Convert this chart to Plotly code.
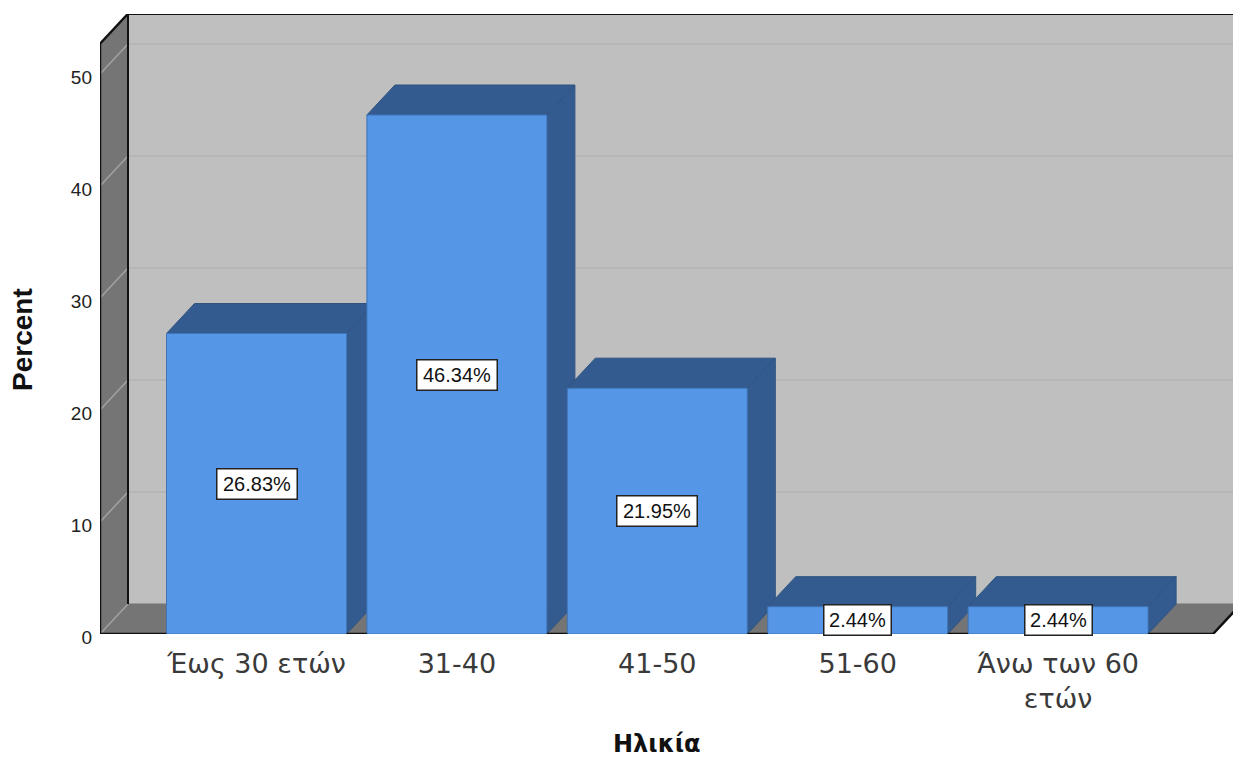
import plotly.graph_objects as go

categories = ["Έως 30 ετών", "31-40", "41-50", "51-60", "Άνω των 60<br>ετών"]
percent = [26.83, 46.34, 21.95, 2.44, 2.44]
labels = ["26.83%", "46.34%", "21.95%", "2.44%", "2.44%"]
y_ticks = [0, 10, 20, 30, 40, 50]

FONT = "Liberation Sans"
FRONT, DARK, WALL, SIDEWALL = "#5596E6", "#345B8F", "#BFBFBF", "#757575"

# pixel scale of the plot
PX_X, PX_Y = 200.4, 11.2
DX, DY = 28 / PX_X, 30 / PX_Y
BAR_W = 180 / PX_X
L, T, B = 100, 14, 126
x0 = (100 - 256.5) / PX_X
x1 = (1233 - 256.5) / PX_X
y_top = 52.7
x_end = (1213 - 256.5) / PX_X

fig = go.Figure()

def poly(xs, ys, fill, line=None, width=1):
    fig.add_trace(go.Scatter(x=xs + xs[:1], y=ys + ys[:1], mode="lines", fill="toself", fillcolor=fill,
                             line=dict(color=line or fill, width=width), hoverinfo="skip",
                             showlegend=False, cliponaxis=False))

def seg(xs, ys, color, width=1):
    fig.add_trace(go.Scatter(x=xs, y=ys, mode="lines", line=dict(color=color, width=width),
                             hoverinfo="skip", showlegend=False, cliponaxis=False))

# walls and floor
poly([x0 + DX, x1 + DX, x1 + DX, x0 + DX], [DY, DY, y_top + DY, y_top + DY], WALL)
poly([x0, x0 + DX, x0 + DX, x0], [0, DY, y_top + DY, y_top], SIDEWALL)
poly([x0, x_end, x_end + DX, x0 + DX], [0, 0, DY, DY], SIDEWALL)
for t in y_ticks:
    seg([x0, x0 + DX], [t, t + DY], "#A3A3A3", 1.5)
    if t:
        seg([x0 + DX, x1 + DX], [t + DY, t + DY], "#B3B3B3", 1.5)

# bars: top, side, front, derived from the values
for i, v in enumerate(percent):
    a, b = i - BAR_W / 2, i + BAR_W / 2
    poly([a, b, b + DX, a + DX], [v, v, v + DY, v + DY], DARK, "#2F5482")
    poly([b, b + DX, b + DX, b], [0, DY, v + DY, v], DARK, "#2F5482")
    poly([a, b, b, a], [0, 0, v, v], FRONT, "#3F74B5")

# frame edges
K = "#111111"
seg([x0, x0, x0 + DX, x1 + DX], [0, y_top, y_top + DY, y_top + DY], K, 2.5)
seg([x0 + DX, x0 + DX], [DY, y_top + DY], K, 2)
edge_x, edge_y = [x0, -BAR_W / 2, None], [0, 0, None]
for i in range(len(percent) - 1):
    edge_x += [i + BAR_W / 2, i + 1 - BAR_W / 2, None]
    edge_y += [0, 0, None]
edge_x += [len(percent) - 1 + BAR_W / 2, x_end, x_end + DX]
edge_y += [0, 0, DY]
seg(edge_x, edge_y, K, 2.5)

for i, (v, s) in enumerate(zip(percent, labels)):
    fig.add_annotation(x=i, y=v / 2, text=s, showarrow=False, bgcolor="white", bordercolor="#222222",
                       borderwidth=1.5, width=77 if len(s) > 5 else 64, height=27,
                       font=dict(family=FONT, size=20, color="#111111"))

fig.add_annotation(xref="paper", yref="paper", x=(657 - 100) / 1133, y=(634 - 744) / 620, text="<b>Ηλικία</b>",
                   xanchor="center", yanchor="middle", showarrow=False,
                   font=dict(family="DejaVu Sans", size=24, color="#111111"))
fig.add_annotation(xref="paper", yref="paper", x=(22 - 100) / 1133, y=(634 - 340) / 620, text="<b>Percent</b>",
                   xanchor="center", yanchor="middle", showarrow=False, textangle=-90,
                   font=dict(family=FONT, size=28, color="#111111"))

fig.update_layout(
    width=1233, height=760, margin=dict(l=L, r=0, t=T, b=B), autosize=False,
    paper_bgcolor="white", plot_bgcolor="white", showlegend=False,
    xaxis=dict(range=[x0, x1], tickmode="array", tickvals=list(range(len(categories))), ticktext=categories,
               showgrid=False, zeroline=False, showline=False, ticks="", ticklabelstandoff=11,
               tickfont=dict(family="DejaVu Sans", size=27, color="#3A3A3A")),
    yaxis=dict(range=[0, (634 - 14) / PX_Y], tickmode="array", tickvals=y_ticks,
               showgrid=False, zeroline=False, showline=False, ticks="", ticklabelstandoff=7, ticklabelshift=3,
               tickfont=dict(family=FONT, size=19, color="#222222")),
)
fig.write_html("out.html", default_width="1233px", default_height="760px",
               config={"displayModeBar": False},
               post_script="document.body.style.margin='0';document.body.style.overflow='hidden';")
